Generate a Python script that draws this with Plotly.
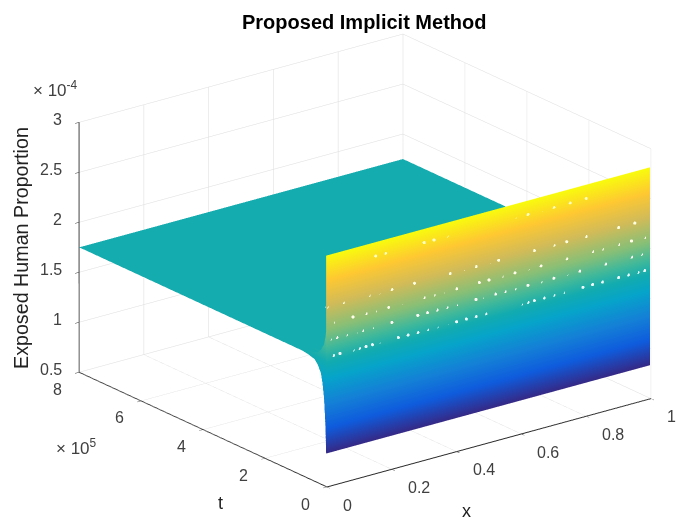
import plotly.graph_objects as go

# x grid (dimensionless), t in units of 1e5, z in units of 1e-4
x_count = 101
x_step = 0.01
x_values = [i * x_step for i in range(x_count)]
t_values = [0.03, 0.04, 0.06, 0.1, 0.15, 0.2, 0.3, 0.4, 0.6, 0.8, 1, 2, 4, 6, 8]
z_low = [0.83, 0.95, 1.15, 1.38, 1.52, 1.61, 1.68, 1.72, 1.74, 1.75, 1.75, 1.75, 1.75, 1.75, 1.75]
z_high = [2.81, 2.6, 2.35, 2.12, 1.98, 1.89, 1.82, 1.78, 1.76, 1.75, 1.75, 1.75, 1.75, 1.75, 1.75]
x_ticks = [0, 0.2, 0.4, 0.6, 0.8, 1]
x_labels = ["0", "0.2", "0.4", "0.6", "0.8", "1"]
t_ticks = [0, 2, 4, 6, 8]
t_labels = ["0", "2", "4", "6", "8"]
z_ticks = [0.5, 1, 1.5, 2, 2.5, 3]
z_labels = ["0.5", "1", "1.5", "2", "2.5", "3"]

# pale speckles on the front wall, grouped in bands of nearly equal height
band_x_a = [.02, .04, .06, .08, .10, .12, .14, .16, .19, .22, .25, .28, .31, .34, .37, .40, .43, .46, .49,
            .60, .62, .64, .67, .70, .73, .76, .79, .82, .85, .90, .93, .96, .98]
band_x_b = [.01, .03, .06, .09, .11, .14, .17, .20, .25, .28, .31, .34, .37, .40, .43, .46, .48,
            .52, .55, .58, .62, .66, .70, .74, .78, .82, .86, .90, .94, .97]
band_x_c = [.02, .05, .08, .12, .15, .19, .23, .26, .30, .33, .36, .40, .44, .47, .50, .54,
            .58, .62, .66, .70, .74, .78, .82, .85, .90, .94, .98]
band_x_d = [.00, .05, .13, .16, .20, .27, .32, .38, .42, .46, .50, .53, .58, .64, .70, .74, .80, .84, .90, .95]
band_x_e = [.15, .18, .22, .30, .33, .37, .58, .62, .66, .70, .75, .80]
band_levels = [1.80, 1.97, 2.13, 2.30, 2.68]

parula = [
    [0.0, "#352A87"], [0.125, "#0F5CDD"], [0.25, "#1481D6"], [0.375, "#06A4CA"],
    [0.46, "#12ABB0"], [0.53, "#3EB89C"], [0.625, "#87BF77"], [0.75, "#D1BB59"],
    [0.875, "#FEC832"], [1.0, "#F9FB0E"],
]
flat = dict(ambient=1, diffuse=0, specular=0, roughness=1, fresnel=0)

# oscillating rows: every row follows either the low or the high branch
rows = [z_low if i % 2 == 0 else z_high for i in range(x_count)]
z_grid = [[rows[i][j] for i in range(x_count)] for j in range(len(t_values))]

fig = go.Figure()
fig.add_trace(go.Surface(
    x=x_values, y=t_values, z=z_grid, colorscale=parula, cmin=0.83, cmax=2.81,
    showscale=False, hoverinfo="skip", lighting=flat,
))
# the envelope of the oscillation at the first time level
fig.add_trace(go.Surface(
    x=x_values, y=[[t_values[0]] * x_count, [t_values[0]] * x_count],
    z=[[z_low[0]] * x_count, [z_high[0]] * x_count],
    colorscale=parula, cmin=0.83, cmax=2.81,
    showscale=False, hoverinfo="skip", lighting=flat,
))
for bx, level in zip([band_x_a, band_x_b, band_x_c, band_x_d, band_x_e], band_levels):
    fig.add_trace(go.Scatter3d(
        x=bx, y=[0] * len(bx), z=[level] * len(bx), mode="markers", hoverinfo="skip",
        marker=dict(size=1.8, color="rgba(225,245,190,0.6)", line=dict(width=0)),
    ))

def axis(ticks, rng):
    return dict(
        title=dict(text=""), range=rng, autorange=False, tickmode="array", tickvals=ticks,
        showticklabels=False,
        showbackground=False, showgrid=True, gridcolor="#DCDCDC", gridwidth=1,
        showline=True, linecolor="#262626", linewidth=2, zeroline=False,
        ticks="outside", ticklen=5, tickcolor="#333333",
        showspikes=False,
    )

tick_font = dict(family="Liberation Sans", size=16, color="#404040")
tick_notes = []
for v, s in zip(x_ticks, x_labels):
    tick_notes.append(dict(x=v, y=0, z=0.5, text=s, showarrow=False, font=tick_font,
                           xanchor="left", yanchor="middle", xshift=14, yshift=-18))
for v, s in zip(t_ticks, t_labels):
    tick_notes.append(dict(x=0, y=v, z=0.5, text=s, showarrow=False, font=tick_font,
                           xanchor="center", yanchor="middle", xshift=-21, yshift=-17))
for v, s in zip(z_ticks, z_labels):
    tick_notes.append(dict(x=0, y=8, z=v, text=s, showarrow=False, font=tick_font,
                           xanchor="right", yanchor="middle", xshift=-15, yshift=3))

k = 2.5
fig.update_layout(
    width=685, height=525, margin=dict(l=0, r=0, t=0, b=0),
    paper_bgcolor="white", showlegend=False,
    scene=dict(
        domain=dict(x=[0.0435, 0.9985], y=[0.0475, 0.9905]),
        xaxis=axis(x_ticks, [0, 1]),
        yaxis=axis(t_ticks, [0, 8]),
        zaxis=axis(z_ticks, [0.5, 3]),
        aspectmode="manual", aspectratio=dict(x=1.65, y=1.645, z=1.08),
        camera=dict(
            projection=dict(type="orthographic"),
            eye=dict(x=-0.569 * k, y=-0.741 * k, z=0.355 * k),
            center=dict(x=0, y=0, z=0), up=dict(x=0, y=0, z=1),
        ),
        annotations=tick_notes,
    ),
    annotations=[
        dict(text="<b>Proposed Implicit Method</b>", x=364, y=22, showarrow=False,
             font=dict(family="Liberation Sans", size=20, color="black")),
        dict(text="Exposed Human Proportion", x=21, y=248, textangle=-90, showarrow=False,
             font=dict(family="Liberation Sans", size=19.7, color="#222222")),
        dict(text="x", x=466, y=511, showarrow=False,
             font=dict(family="Liberation Sans", size=18, color="#222222")),
        dict(text="t", x=221, y=503, showarrow=False,
             font=dict(family="Liberation Sans", size=18, color="#222222")),
        dict(text="× 10<sup>-4</sup>", x=55, y=89, showarrow=False,
             font=dict(family="Liberation Sans", size=17, color="#404040")),
        dict(text="× 10<sup>5</sup>", x=76, y=447, showarrow=False,
             font=dict(family="Liberation Sans", size=17, color="#404040")),
    ],
)
# the page sits 8 px in from the window corner
for a in fig.layout.annotations:
    a.update(xref="paper", yref="paper", x=(a.x - 8) / 685, y=1 - (a.y - 8) / 525, xanchor="center", yanchor="middle")

fig.write_html("out.html")
